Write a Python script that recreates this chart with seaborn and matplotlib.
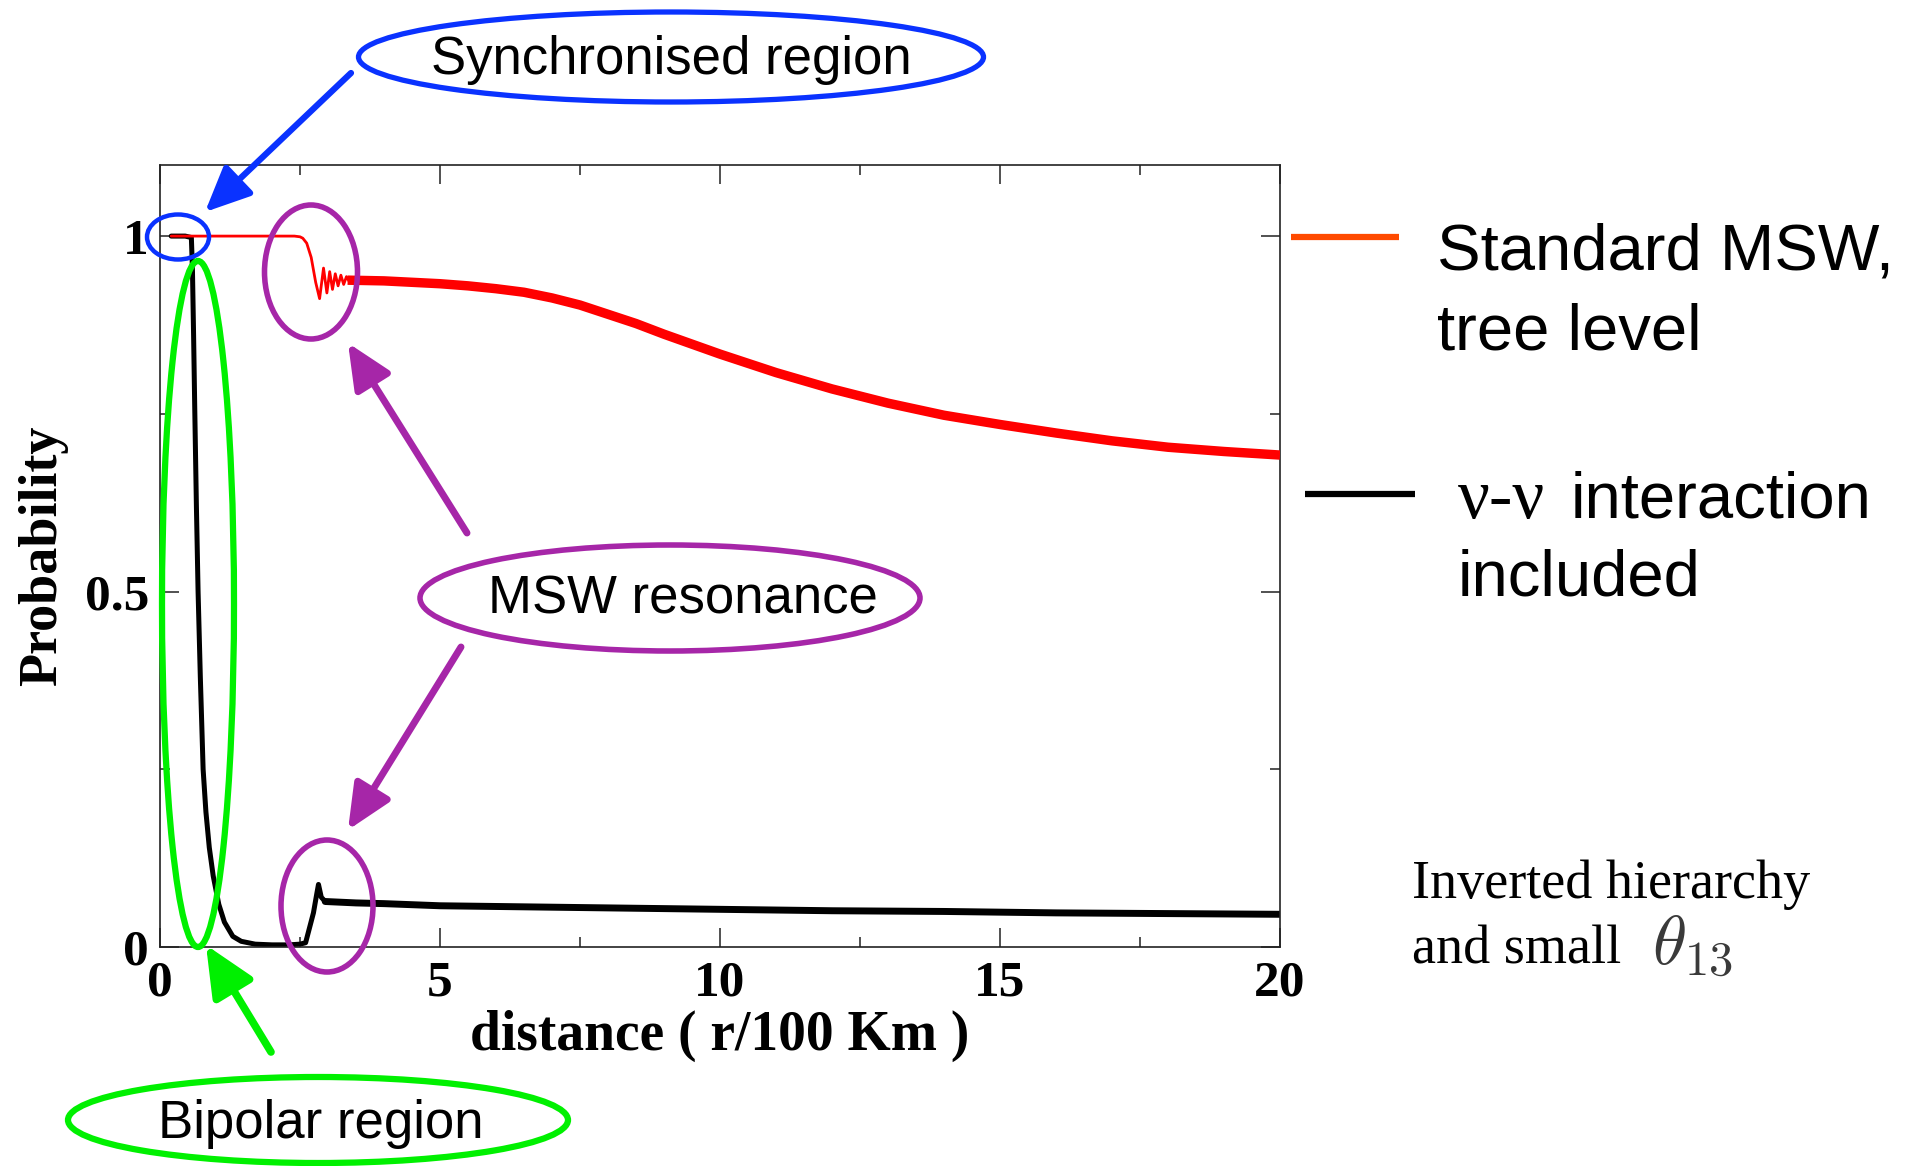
import matplotlib
matplotlib.use("Agg")
import matplotlib.pyplot as plt
import seaborn as sns
from matplotlib.patches import Ellipse, FancyArrowPatch
from matplotlib.ticker import MultipleLocator, FixedLocator

# ---------------- data ----------------
red_thin_x = [0.2, 0.5, 1.0, 1.5, 2.0, 2.4, 2.5, 2.55, 2.62, 2.7, 2.78, 2.85,
              2.92, 2.98, 3.03, 3.08, 3.13, 3.18, 3.23, 3.28, 3.33, 3.38]
red_thin_y = [1.0, 1.0, 1.0, 1.0, 1.0, 1.0, 0.999, 0.997, 0.99, 0.97, 0.935, 0.912,
              0.955, 0.92, 0.95, 0.925, 0.947, 0.93, 0.945, 0.932, 0.943, 0.936]
red_band_x = [3.35, 4, 4.5, 5, 5.5, 6, 6.5, 7, 7.5, 8, 8.5, 9, 9.5, 10, 11, 12, 13,
              14, 15, 16, 17, 18, 19, 20]
red_band_y = [0.938, 0.937, 0.935, 0.933, 0.930, 0.926, 0.921, 0.913, 0.903, 0.890,
              0.877, 0.862, 0.848, 0.834, 0.808, 0.785, 0.765, 0.748, 0.735, 0.723,
              0.712, 0.703, 0.697, 0.692]

black_thin_x = [0.2, 0.45, 0.56, 0.57, 0.58, 0.6, 0.62, 0.65, 0.68, 0.72, 0.77, 0.82,
                0.88, 0.95, 1.05, 1.15, 1.3, 1.45, 1.7, 2.0, 2.3, 2.5, 2.6, 2.68,
                2.74, 2.8, 2.83, 2.88, 2.95]
black_thin_y = [1.0, 1.0, 0.998, 0.975, 0.95, 0.86, 0.76, 0.62, 0.5, 0.38, 0.25, 0.19,
                0.14, 0.1, 0.06, 0.035, 0.015, 0.008, 0.004, 0.003, 0.003, 0.004, 0.006,
                0.03, 0.048, 0.075, 0.088, 0.07, 0.064]
black_band_x = [2.95, 3.5, 4, 5, 6, 7, 8, 9, 10, 12, 14, 16, 18, 20]
black_band_y = [0.064, 0.062, 0.061, 0.058, 0.057, 0.056, 0.055, 0.054, 0.053, 0.051,
                0.05, 0.048, 0.047, 0.046]

x_ticks = [0, 5, 10, 15, 20]
x_tick_labels = ["0", "5", "10", "15", "20"]
y_ticks = [0, 0.5, 1.0]
y_tick_labels = ["0", "0.5", "1"]

# ---------------- style ----------------
sns.set_theme(style="ticks")
plt.rcParams["font.family"] = ["Liberation Serif", "DejaVu Sans"]
plt.rcParams["mathtext.fontset"] = "cm"
for k in ["text.color", "axes.labelcolor", "xtick.color", "ytick.color"]:
    plt.rcParams[k] = "black"

W, H = 1913, 1166
fig = plt.figure(figsize=(W / 100, H / 100), dpi=100)
fig.patch.set_facecolor("white")

ax = fig.add_axes([160 / W, (H - 947) / H, 1120 / W, (947 - 165) / H])
ax.set_facecolor("white")

kw = dict(ax=ax, estimator=None, sort=False, legend=False)
sns.lineplot(x=black_thin_x, y=black_thin_y, color="black", lw=3.6, zorder=2, **kw)
sns.lineplot(x=black_band_x, y=black_band_y, color="black", lw=5.0, zorder=2, **kw)
sns.lineplot(x=red_thin_x, y=red_thin_y, color="#ff0000", lw=2.0, zorder=3, **kw)
sns.lineplot(x=red_band_x, y=red_band_y, color="#ff0000", lw=6.8, zorder=3,
             solid_capstyle="butt", **kw)

ax.set_xlim(0, 20)
ax.set_ylim(0, 1.1)
ax.xaxis.set_major_locator(FixedLocator(x_ticks))
ax.set_xticklabels(x_tick_labels)
ax.yaxis.set_major_locator(FixedLocator(y_ticks))
ax.set_yticklabels(y_tick_labels)
ax.xaxis.set_minor_locator(MultipleLocator(2.5))
ax.yaxis.set_minor_locator(MultipleLocator(0.25))
ax.tick_params(which="both", direction="in", top=True, right=True, color="#222222")
ax.tick_params(which="major", length=14, width=1.1, labelsize=37, labelcolor="black")
ax.tick_params(axis="x", which="major", pad=10)
ax.tick_params(axis="y", which="major", pad=8)
ax.tick_params(which="minor", length=7, width=1.1)
for lab in ax.get_xticklabels() + ax.get_yticklabels():
    lab.set_fontweight("bold")
    lab.set_fontfamily("Liberation Serif")
for sp in ax.spines.values():
    sp.set_visible(True)
    sp.set_color("#222222")
    sp.set_linewidth(1.2)

ax.set_xlabel("distance ( r/100 Km )", fontsize=40, fontweight="bold",
              family="Liberation Serif", labelpad=2, color="black")
ax.set_ylabel("Probability", fontsize=39, fontweight="bold",
              family="Liberation Serif", labelpad=12, color="black")

# ---------------- overlay for annotations (pixel coordinates) ----------------
ov = fig.add_axes([0, 0, 1, 1], zorder=10)
ov.set_xlim(0, W)
ov.set_ylim(H, 0)
ov.axis("off")
ov.patch.set_alpha(0)

BLUE = "#0a32ff"
GREEN = "#00f000"
PURPLE = "#a626a8"

def ell(cx, cy, w, h, c, lw):
    ov.add_patch(Ellipse((cx, cy), w, h, fill=False, ec=c, lw=lw))

def arrow(p0, p1, c, lw=4.5, ms=25):
    ov.add_patch(FancyArrowPatch(p0, p1, arrowstyle="-|>,head_length=1.1,head_width=0.5",
                                 mutation_scale=ms, lw=lw, color=c,
                                 shrinkA=0, shrinkB=0))

sans = "Liberation Sans"

# Synchronised region
ell(671, 57, 625, 90, BLUE, 3.8)
ov.text(671, 60, "Synchronised region", family=sans, fontsize=38,
        ha="center", va="center", color="black")
arrow((351, 73), (205, 212), BLUE)
ell(178, 237, 62, 45, BLUE, 3.2)

# Bipolar region
ell(198, 604, 72, 686, GREEN, 4.5)
arrow((271, 1052), (206, 945), GREEN, lw=5.5, ms=28)
ell(318, 1120, 500, 86, GREEN, 4.5)
ov.text(321, 1124, "Bipolar region", family=sans, fontsize=38,
        ha="center", va="center", color="black")

# MSW resonance
ell(311, 272, 93, 134, PURPLE, 4)
ell(327, 906, 92, 132, PURPLE, 4)
ell(670, 598, 500, 106, PURPLE, 4)
ov.text(683, 600, "MSW resonance", family=sans, fontsize=38,
        ha="center", va="center", color="black")
arrow((467, 533), (348, 343), PURPLE, lw=5)
arrow((461, 647), (348, 830), PURPLE, lw=5)

# legend-like labels
ov.plot([1291, 1399], [237, 237], color="#ff4a00", lw=4.5, solid_capstyle="butt")
ov.text(1437, 270, "Standard MSW,", family=sans, fontsize=47, va="baseline", color="black")
ov.text(1437, 350, "tree level", family=sans, fontsize=47, va="baseline", color="black")
ov.plot([1305, 1415], [494, 494], color="black", lw=4.5, solid_capstyle="butt")
ov.text(1458, 518, "ν-ν", family="Liberation Serif", fontsize=51, va="baseline", color="black")
ov.text(1571, 518, "interaction", family=sans, fontsize=47, va="baseline", color="black")
ov.text(1458, 595, "included", family=sans, fontsize=47, va="baseline", color="black")

ov.text(1412, 898, "Inverted hierarchy", family="Liberation Serif", fontsize=39,
        va="baseline", color="black")
ov.text(1412, 964, "and small", family="Liberation Serif", fontsize=39,
        va="baseline", color="black")
ov.text(1652, 964, r"$\theta_{13}$", fontsize=50, color="#3a3a3a", va="baseline")

fig.savefig("out.png", dpi=100, facecolor="white")
